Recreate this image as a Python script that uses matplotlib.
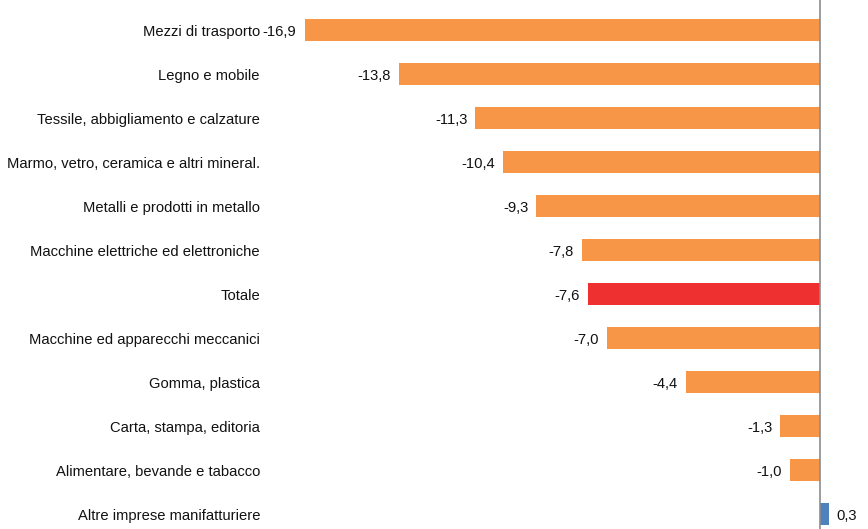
import matplotlib
matplotlib.use("Agg")
import matplotlib.pyplot as plt
from matplotlib.transforms import blended_transform_factory

categories = [
    "Mezzi di trasporto",
    "Legno e mobile",
    "Tessile, abbigliamento e calzature",
    "Marmo, vetro, ceramica e altri mineral.",
    "Metalli e prodotti in metallo",
    "Macchine elettriche ed elettroniche",
    "Totale",
    "Macchine ed apparecchi meccanici",
    "Gomma, plastica",
    "Carta, stampa, editoria",
    "Alimentare, bevande e tabacco",
    "Altre imprese manifatturiere",
]
values = [-16.9, -13.8, -11.3, -10.4, -9.3, -7.8, -7.6, -7.0, -4.4, -1.3, -1.0, 0.3]

ORANGE = "#F79646"
RED = "#EE3030"
BLUE = "#4F81BD"
colors = []
for c, v in zip(categories, values):
    if c == "Totale":
        colors.append(RED)
    elif v >= 0:
        colors.append(BLUE)
    else:
        colors.append(ORANGE)

W, H = 868, 529
fig = plt.figure(figsize=(W / 100, H / 100), dpi=100)
ax_left, ax_right = 270, 860
ax = fig.add_axes([ax_left / W, 0, (ax_right - ax_left) / W, 1])

k = 30.5  # px per unit
zero_px = 820
ax.set_xlim(-(zero_px - ax_left) / k, (ax_right - zero_px) / k)
ax.set_ylim(499 / 44, -30 / 44)

ypos = list(range(len(categories)))
ax.barh(ypos, values, height=0.5, color=colors, zorder=2)

for s in ["top", "right", "bottom", "left"]:
    ax.spines[s].set_visible(False)
ax.axvline(0, color="#8C8C8C", linewidth=1.2, zorder=3)
ax.set_xticks([])
ax.set_yticks([])

fs = 10.65
FONT = "Liberation Sans"
dy = 0.05
tr = blended_transform_factory(fig.transFigure, ax.transData)
for y, c in zip(ypos, categories):
    ax.text(260 / W, y + dy, c, transform=tr, ha="right", va="center",
            fontsize=fs, color="#111111", family=FONT)

for y, v in zip(ypos, values):
    lbl = f"{v:.1f}".replace(".", ",")
    if v < 0:
        ax.annotate(lbl, (v, y + dy), xytext=(-5.8, 0), textcoords="offset points",
                    ha="right", va="center", fontsize=fs, color="#111111", family=FONT)
    else:
        ax.annotate(lbl, (v, y + dy), xytext=(5.2, 0), textcoords="offset points",
                    ha="left", va="center", fontsize=fs, color="#111111", family=FONT)

fig.savefig("out.png", dpi=100)
